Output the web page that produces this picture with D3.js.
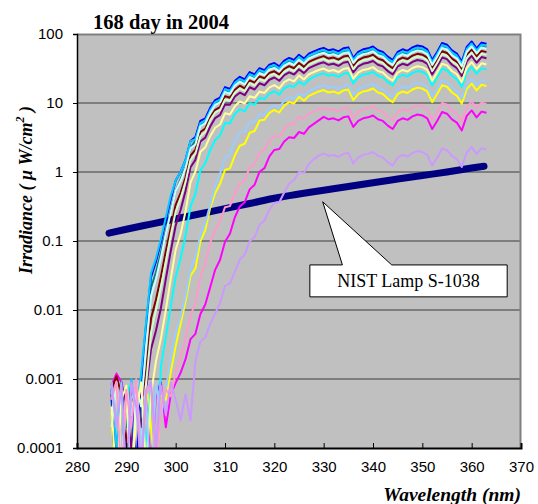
<!DOCTYPE html>
<html>
<head>
<meta charset="utf-8">
<script src="https://cdn.jsdelivr.net/npm/d3@7"></script>
<style>
  html, body { margin: 0; padding: 0; background: #fff; }
  svg { display: block; }
</style>
</head>
<body>
<svg id="chart"></svg>
<script>
// wavelength grid (nm)
const wavelength = [287,288,289,290,291,292,293,294,295,296,297,298,299,300,301,302,303,304,305,306,307,308,309,310,
  311,312,313,314,315,316,317,318,319,320,321,322,323,324,325,326,327,328,329,330,331,332,333,334,335,336,337,338,
  339,340,341,342,343,344,345,346,347,348,349,350,351,352,353,354,355,356,357,358,359,360,361,362,363];

const blue = [0.0007,0.00004,0.0009,0.00003,0.0008,0.00005,0.0009,
  0.006,0.03,0.05,0.095,0.2,0.4,0.75,1.0,1.5,2.8,
  3.2,5.5,6.0,8.5,11,12,17,16,21,24,
  22,28,26,32,30,36,38,34,41,45,
  42,50,44,52,56,60,63,58,60,56,
  62,64,45,55,60,62,66,58,55,47,
  42,55,60,57,64,68,66,60,42,55,
  74,70,58,52,40,65,78,62,75,72];
const skyBlue = [0.0009,0.0001,0.0006,0.00002,0.001,0.0003,0.0012,
  0.0067,0.034,0.056,0.106,0.22,0.45,0.75,1.0,1.5,2.8,
  3.0,5.1,5.6,7.9,10.3,11.2,15.9,14.9,19.6,22.4,
  20.5,26.1,24.3,29.9,28,33.6,35.5,31.7,38.3,42,
  39.2,46.7,41,48.5,52.2,56,58.8,54.1,56,52.2,
  57.8,59.7,42,51.3,56,57.8,61.6,54.1,51.3,43.9,
  39.2,51.3,56,53.2,59.7,63.4,61.6,56,39.2,51.3,
  69,65.3,54.1,48.5,37.3,60.6,72.8,57.8,70,67.2];
const teal = [0.0005,0.00002,0.0008,0.0002,0.0007,0.00003,0.0006,
  0.0042,0.021,0.035,0.067,0.14,0.28,0.53,0.79,1.19,2.2,
  2.85,4.9,5.3,7.6,9.8,10.7,15.1,14.3,18.7,21.4,
  19.6,24.9,23.2,28.5,26.7,32.1,33.9,30.3,36.5,40.1,
  37.4,44.6,39.2,46.3,49.9,53.5,56.1,51.7,53.5,49.9,
  55.2,57,40.1,49,53.5,55.2,58.8,51.7,49,41.9,
  37.4,49,53.5,50.8,57,60.6,58.8,53.5,37.4,49,
  65.9,62.4,51.7,46.3,35.6,57.9,69.5,55.2,66.8,64.2];
const lightTurquoise = [0.0003,0.0009,0.00005,0.0006,0.00002,0.0008,0.0004,
  0.003,0.0158,0.028,0.057,0.126,0.26,0.53,0.74,1.14,2.2,
  2.5,4.6,5.1,7.2,9.4,10.2,14.5,13.6,17.9,20.4,
  18.7,23.8,22.1,27.2,25.5,30.6,32.3,28.9,34.9,38.3,
  35.7,42.6,37.4,44.3,47.7,51.1,53.6,49.4,51.1,47.7,
  52.8,54.5,38.3,46.8,51.1,52.8,56.2,49.4,46.8,40,
  35.7,46.8,51.1,48.5,54.5,57.9,56.2,51.1,35.7,46.8,
  63,59.6,49.4,44.3,34,55.3,66.4,52.8,63.8,61.3];
const maroon = [0.0007,0.0011,0.0006,0.0001,0.0009,0.00004,0.0005,
  0.0012,0.0075,0.0141,0.030,0.071,0.152,0.335,0.5,0.84,1.73,
  2.1,3.8,4.25,6.15,7.96,8.7,12.6,11.9,15.6,17.8,
  16.3,21.3,19.7,24.3,22.8,27.3,28.8,25.8,31.1,34.2,
  31.9,38,33.4,39.5,42.5,45.5,47.8,44,45.5,42.5,
  47.1,48.6,34.2,41.7,45.5,47.1,50.1,44,41.7,35.7,
  31.9,41.7,45.5,43.3,48.6,51.6,50.1,45.5,31.9,41.7,
  56.2,53.1,44,39.5,30.4,49.3,59.2,47.1,56.9,54.6];
const lightGreen = [0.0002,0.0008,0.00003,0.0007,0.0003,0.0009,0.0001,
  0.00085,0.0047,0.01,0.0213,0.050,0.121,0.266,0.417,0.72,1.5,
  1.84,3.3,3.8,5.6,7.3,7.9,11.2,10.8,14.2,16.2,
  14.9,19.4,18,22.1,20.8,24.9,26.3,23.5,28.4,31.1,
  29.1,34.6,30.4,36,38.8,41.5,43.6,40.1,41.5,38.8,
  42.9,44.3,31.1,38.1,41.5,42.9,45.7,40.1,38.1,32.5,
  29.1,38.1,41.5,39.4,44.3,47.1,45.7,41.5,29.1,38.1,
  51.2,48.4,40.1,36,27.7,45,54,42.9,51.9,49.8];
const purple = [0.0006,0.00002,0.0009,0.0004,0.0001,0.0008,0.0002,0.0007,
  0.0027,0.005,0.0106,0.028,0.071,0.168,0.282,0.53,1.17,
  1.5,2.76,3.15,4.56,6.05,6.74,9.55,9.4,12.4,14.1,
  13,16.9,15.7,19.3,18.1,21.7,23.4,21,25.3,27.8,
  25.9,30.9,27.1,32.1,34.6,37,38.9,35.8,37,34.6,
  38.3,39.5,27.8,33.9,37,38.3,40.7,35.8,33.9,29,
  25.9,33.9,37,35.2,39.5,42,40.7,37,25.9,33.9,
  45.7,43.2,35.8,32.1,24.7,40.1,48.1,38.3,46.3,44.4];
const lightYellow = [0.0004,0.00003,0.0005,0.0008,0.00002,0.0003,0.0009,0.00005,0.0006,
  0.0018,0.0038,0.01,0.028,0.075,0.126,0.267,0.70,
  1.01,1.95,2.28,3.31,4.38,4.88,7.09,6.83,8.97,10.5,
  9.83,12.5,11.9,14.6,14,16.8,18.2,16.3,20.1,22,
  20.6,25.1,22,26.1,28.1,30.1,31.6,29.1,30.1,28.1,
  31.1,32.1,22.5,27.6,30.1,31.1,33.1,29.1,27.6,23.5,
  21,27.6,30.1,28.6,32.1,34.1,33.1,30.1,21,27.6,
  37.1,35.1,29.1,26.1,20,32.6,39.1,31.1,37.6,36.1];
const cyan = [0.0009,0.0005,0.00002,0.0006,0.0009,0.00003,0.0007,0.0001,0.0008,0.00004,
  0.0015,0.004,0.0113,0.030,0.056,0.119,0.314,
  0.483,1.05,1.34,2.08,2.89,3.38,5.13,5.06,6.95,8.14,
  7.63,9.94,9.44,11.9,11.4,13.7,14.8,13.2,16.3,17.9,
  17.1,20.4,18.3,21.7,23.9,25.6,26.9,24.8,25.6,23.9,
  26.5,27.3,19.2,23.5,25.6,26.5,28.2,24.8,23.5,20.1,
  17.9,23.5,25.6,24.3,27.3,29,28.2,25.6,17.9,23.5,
  31.6,29.9,24.8,22.2,17.1,27.8,33.3,26.5,32,30.7];
const paleBlue = [0.0007,0.0002,0.0009,0.00003,0.0005,0.0008,0.0001,0.0006,0.00002,0.0009,0.0003,
  0.00071,0.002,0.0047,0.0079,0.0158,0.0395,
  0.057,0.123,0.181,0.338,0.618,0.953,1.62,1.79,2.84,3.79,
  3.83,5.35,5.3,6.85,6.72,8.42,9.12,8.53,10.8,12.1,
  11.6,13.8,12.4,14.7,16.1,17.3,18.1,16.7,17.3,16.1,
  17.9,18.4,13,15.8,17.3,17.9,19,16.7,15.8,13.5,
  12.1,15.8,17.3,16.4,18.4,19.6,19,17.3,12.1,15.8,
  21.3,20.2,16.7,15,11.5,18.7,22.5,17.9,21.6,20.7];
const yellow = [0.0003,0.00002,0.0008,0.0004,0.00005,0.0006,0.00003,0.0009,0.0002,0.00004,0.0006,
  0.0005,0.00126,0.003,0.0063,0.0134,0.0314,
  0.040,0.098,0.144,0.302,0.492,0.674,1.07,1.13,1.75,2.4,
  2.57,3.7,3.93,5.57,5.73,7.2,7.94,7.28,9.18,10.3,
  9.83,12.3,10.8,12.7,13.7,14.7,15.4,14.2,14.7,13.7,
  15.2,15.7,11,13.5,14.7,15.2,16.2,14.2,13.5,11.5,
  10.3,13.5,14.7,14,15.7,16.7,16.2,14.7,10.3,13.5,
  18.1,17.2,14.2,12.7,9.8,15.9,19.1,15.2,18.4,17.6];
const rose = [0.0005,0.0009,0.00003,0.0007,0.0002,0.0010,0.00004,0.0006,0.0008,0.00005,0.0004,0.0007,
  0.00056,0.00125,0.0021,0.0038,0.0085,
  0.0122,0.0289,0.0476,0.095,0.145,0.19,0.309,0.32,0.491,0.677,
  0.763,1.17,1.3,1.93,2.08,2.86,3.31,3.25,4.18,4.95,
  4.91,6.3,5.94,7.02,7.56,8.1,8.5,7.83,8.1,7.56,
  8.37,8.64,6.08,7.43,8.1,8.37,8.91,7.83,7.43,6.35,
  5.67,7.43,8.1,7.7,8.64,9.18,8.91,8.1,5.67,7.43,
  9.99,9.45,7.83,7.02,5.4,8.78,10.5,8.37,10.1,9.72];
const magenta = [0.0008,0.0012,0.0009,0.0001,0.0007,0.00003,0.0005,0.0008,0.00004,0.0006,0.0009,0.0002,0.0006,
  0.00088,0.00123,0.00194,0.00378,
  0.00451,0.0087,0.012,0.0213,0.0382,0.0536,0.0978,0.127,0.221,0.317,
  0.365,0.56,0.653,1.01,1.14,1.68,2.09,2.15,2.77,3.19,
  3.11,3.8,3.58,4.43,4.99,5.6,6.3,5.8,6,5.6,
  6.2,6.4,4.5,5.5,6,6.2,6.6,5.8,5.5,4.7,
  4.2,5.5,6,5.7,6.4,6.8,6.6,6,4.2,5.5,
  7.4,7,5.8,5.2,4,6.5,7.8,6.2,7.5,7.2];
const lavender = [0.0009,0.0002,0.0008,0.00003,0.0009,0.0004,0.00005,0.0007,0.0009,0.0001,0.0008,0.0003,
  0.0009,0.0005,0.00025,0.0006,0.00025,0.0018,
  0.0035,0.004,0.0063,0.0089,0.0126,0.0224,0.0242,0.0357,0.0538,
  0.0634,0.0994,0.114,0.172,0.198,0.286,0.355,0.364,0.504,0.68,
  0.764,1.0,0.964,1.31,1.54,1.73,1.86,1.71,1.77,1.65,
  1.83,1.89,1.33,1.62,1.77,1.83,1.95,1.71,1.62,1.39,
  1.24,1.62,1.77,1.68,1.89,2.01,1.95,1.77,1.24,1.62,
  2.18,2.07,1.71,1.53,1.18,1.92,2.3,1.83,2.21,2.12];

// NIST lamp S-1038 reference curve
const nistWavelength = [286.5,290,295,300,305,310,315,320,325,330,335,340,345,350,355,360,362.5];
const nistValues = [0.13,0.148,0.176,0.209,0.248,0.295,0.35,0.417,0.48,0.545,0.617,0.70,0.79,0.89,1.0,1.14,1.21];

const xTicks = [280,290,300,310,320,330,340,350,360,370];
const yTicks = [0.0001,0.001,0.01,0.1,1,10,100];
const yTickLabels = ['0.0001','0.001','0.01','0.1','1','10','100'];

// draw order as in the spreadsheet (later ones on top)
const seriesList = [
  { values: magenta, color: '#ff00ff' },
  { values: yellow, color: '#ffff00' },
  { values: cyan, color: '#00ffff' },
  { values: purple, color: '#800080' },
  { values: maroon, color: '#800000' },
  { values: teal, color: '#008080' },
  { values: blue, color: '#0000ff' },
  { values: skyBlue, color: '#00ccff' },
  { values: lightTurquoise, color: '#ccffff' },
  { values: lightGreen, color: '#ccffcc' },
  { values: lightYellow, color: '#ffff99' },
  { values: paleBlue, color: '#99ccff' },
  { values: rose, color: '#ff99cc' },
  { values: lavender, color: '#cc99ff' }
];

const W = 538, H = 504;
const m = { top: 34, right: 17, bottom: 56, left: 77 };
const cW = W - m.left - m.right;
const cH = H - m.top - m.bottom;
const SANS = "'Liberation Sans', Arial, sans-serif";
const SERIF = "'Liberation Serif', 'Times New Roman', serif";

const svg = d3.select('#chart').attr('width', W).attr('height', H);

const x = d3.scaleLinear().domain([280, 370]).range([0, cW]);
const y = d3.scaleLog().domain([0.0001, 100]).range([cH, 0]);

const g = svg.append('g').attr('transform', `translate(${m.left},${m.top})`);

g.append('rect').attr('width', cW).attr('height', cH).attr('fill', '#c0c0c0');

// horizontal grid
g.append('g').selectAll('line').data(yTicks.slice(1, -1)).join('line')
  .attr('x1', 0).attr('x2', cW)
  .attr('y1', d => y(d)).attr('y2', d => y(d))
  .attr('stroke', '#3c3c3c').attr('stroke-width', 1);

// plot frame: grey top/right
g.append('path').attr('d', `M0,0.5H${cW - 0.5}V${cH}`)
  .attr('fill', 'none').attr('stroke', '#808080').attr('stroke-width', 2);

svg.append('clipPath').attr('id', 'plotclip')
  .append('rect').attr('x', 0).attr('y', 0).attr('width', cW).attr('height', cH);

const lines = g.append('g').attr('clip-path', 'url(#plotclip)');

// NIST lamp
const nistLine = d3.line().x((d, i) => x(nistWavelength[i])).y(d => y(d)).curve(d3.curveMonotoneX);
lines.append('path').datum(nistValues)
  .attr('fill', 'none').attr('stroke', '#000080').attr('stroke-width', 7)
  .attr('stroke-linecap', 'round').attr('d', nistLine);

const line = d3.line().x((d, i) => x(wavelength[i])).y(d => y(d));
seriesList.forEach(s => {
  lines.append('path').datum(s.values)
    .attr('fill', 'none').attr('stroke', s.color).attr('stroke-width', 2)
    .attr('stroke-linejoin', 'round').attr('d', line);
});

// axes
const xAxis = g.append('g').attr('transform', `translate(0,${cH})`)
  .call(d3.axisBottom(x).tickValues(xTicks).tickSize(-5).tickPadding(13).tickFormat(d3.format('d')));
xAxis.select('.domain').attr('stroke', '#000').attr('stroke-width', 2);
xAxis.selectAll('.tick line').attr('stroke', '#000');
xAxis.selectAll('text').style('font-family', SANS).style('font-size', '15px').attr('fill', '#000');

const yAxis = g.append('g')
  .call(d3.axisLeft(y).tickValues(yTicks).tickSize(4).tickPadding(10).tickFormat((d, i) => yTickLabels[i]));
yAxis.select('.domain').attr('stroke', '#000').attr('stroke-width', 1.5);
yAxis.selectAll('.tick line').attr('stroke', '#000');
yAxis.selectAll('text').style('font-family', SANS).style('font-size', '15px').attr('fill', '#000');

// callout for the lamp
const tip = [x(329.8), y(0.37)];
const bx0 = x(327.2), bx1 = x(367.2), by0 = y(0.045), by1 = y(0.0155);
const pl = x(333.8), pr = x(343.8);
g.append('path')
  .attr('d', `M${bx0},${by0}H${pl}L${tip[0]},${tip[1]}L${pr},${by0}H${bx1}V${by1}H${bx0}Z`)
  .attr('fill', '#fff').attr('stroke', '#000').attr('stroke-width', 1);
g.append('text').attr('x', (bx0 + bx1) / 2).attr('y', (by0 + by1) / 2 + 6)
  .attr('text-anchor', 'middle').style('font-family', SERIF).style('font-size', '18px')
  .text('NIST Lamp S-1038');

// titles
svg.append('text').attr('x', 93).attr('y', 29)
  .style('font-family', SERIF).style('font-weight', 'bold').style('font-size', '20.5px')
  .text('168 day in 2004');

svg.append('text').attr('x', 521).attr('y', 501).attr('text-anchor', 'end')
  .style('font-family', SERIF).style('font-weight', 'bold').style('font-style', 'italic').style('font-size', '19.5px')
  .text('Wavelength (nm)');

const yt = svg.append('text').attr('transform', 'translate(32,190) rotate(-90)').attr('text-anchor', 'middle')
  .style('font-family', SERIF).style('font-weight', 'bold').style('font-style', 'italic').style('font-size', '18px');
yt.append('tspan').text('Irradiance ( μ W/cm');
yt.append('tspan').attr('dy', -8).style('font-size', '12px').text('2');
yt.append('tspan').attr('dy', 8).text(' )');
</script>
</body>
</html>
